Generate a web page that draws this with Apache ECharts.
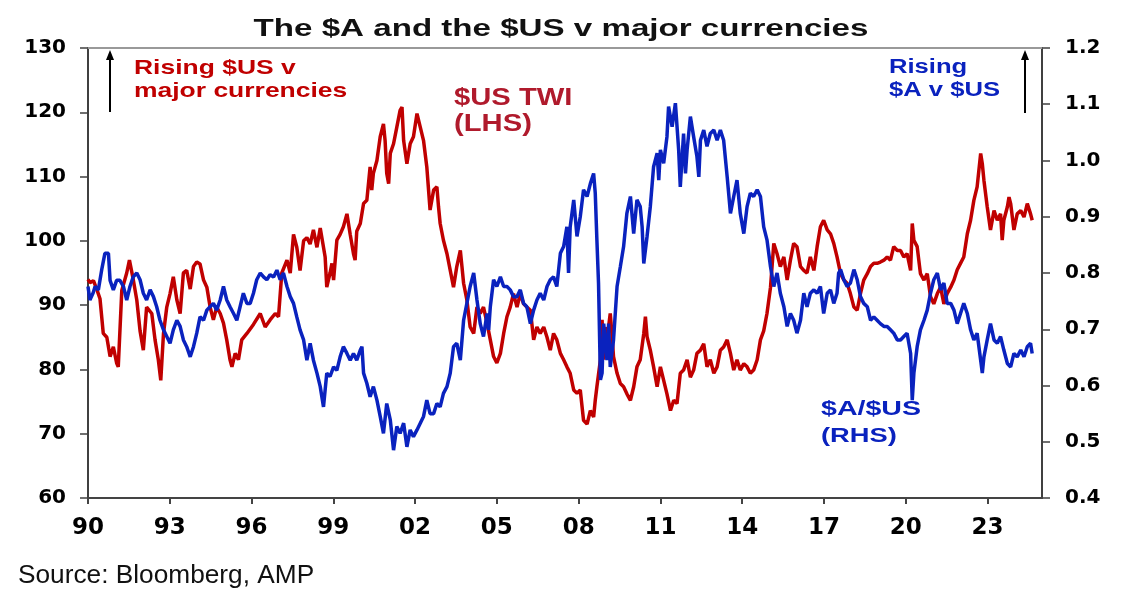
<!DOCTYPE html>
<html>
<head>
<meta charset="utf-8">
<script src="https://cdn.jsdelivr.net/npm/echarts@6/dist/echarts.min.js"></script>
<style>
    html, body { margin: 0; padding: 0; background: #fff; }
    #chart { width: 1132px; height: 602px; }
</style>
</head>
<body>
<div id="chart"></div>
<script>
// $US trade weighted index (LHS)
var twiYears = [
    1990.00, 1990.07, 1990.20, 1990.32, 1990.44, 1990.56, 1990.69, 1990.81, 1990.93, 1991.05,
    1991.11, 1991.24, 1991.42, 1991.52, 1991.66, 1991.79, 1991.91, 1992.03, 1992.15, 1992.34,
    1992.46, 1992.58, 1992.67, 1992.77, 1992.89, 1993.01, 1993.13, 1993.26, 1993.38, 1993.50,
    1993.62, 1993.75, 1993.87, 1993.99, 1994.11, 1994.24, 1994.36, 1994.48, 1994.60, 1994.72,
    1994.85, 1994.97, 1995.09, 1995.21, 1995.28, 1995.40, 1995.52, 1995.64, 1995.83, 1996.07,
    1996.32, 1996.50, 1996.68, 1996.87, 1996.99, 1997.11, 1997.30, 1997.42, 1997.54, 1997.66,
    1997.78, 1997.91, 1998.03, 1998.15, 1998.27, 1998.40, 1998.52, 1998.70, 1998.76, 1998.88,
    1998.95, 1999.01, 1999.13, 1999.25, 1999.37, 1999.50, 1999.62, 1999.74, 1999.80, 1999.86,
    1999.99, 2000.11, 2000.23, 2000.35, 2000.41, 2000.47, 2000.60, 2000.72, 2000.84, 2000.90,
    2000.96, 2001.03, 2001.09, 2001.21, 2001.33, 2001.45, 2001.52, 2001.58, 2001.70, 2001.82,
    2001.94, 2002.07, 2002.19, 2002.31, 2002.43, 2002.55, 2002.68, 2002.80, 2002.86, 2002.92,
    2003.04, 2003.17, 2003.29, 2003.41, 2003.53, 2003.66, 2003.72, 2003.78, 2003.90, 2004.02,
    2004.15, 2004.27, 2004.39, 2004.51, 2004.64, 2004.76, 2004.88, 2005.00, 2005.13, 2005.25,
    2005.37, 2005.49, 2005.61, 2005.74, 2005.86, 2005.98, 2006.10, 2006.23, 2006.35, 2006.47,
    2006.59, 2006.72, 2006.84, 2006.96, 2007.08, 2007.20, 2007.33, 2007.45, 2007.57, 2007.69,
    2007.82, 2007.94, 2008.06, 2008.18, 2008.31, 2008.43, 2008.55, 2008.61, 2008.67, 2008.80,
    2008.86, 2008.92, 2008.98, 2009.04, 2009.16, 2009.22, 2009.28, 2009.41, 2009.53, 2009.65,
    2009.77, 2009.90, 2010.02, 2010.14, 2010.26, 2010.39, 2010.45, 2010.51, 2010.63, 2010.75,
    2010.88, 2011.00, 2011.12, 2011.24, 2011.37, 2011.49, 2011.61, 2011.73, 2011.85, 2011.98,
    2012.10, 2012.22, 2012.34, 2012.47, 2012.59, 2012.71, 2012.83, 2012.96, 2013.08, 2013.20,
    2013.32, 2013.45, 2013.57, 2013.69, 2013.81, 2013.93, 2014.06, 2014.18, 2014.30, 2014.42,
    2014.55, 2014.67, 2014.79, 2014.91, 2015.04, 2015.16, 2015.28, 2015.40, 2015.53, 2015.65,
    2015.77, 2015.89, 2016.01, 2016.14, 2016.26, 2016.38, 2016.50, 2016.63, 2016.75, 2016.87,
    2016.99, 2017.12, 2017.24, 2017.36, 2017.48, 2017.61, 2017.73, 2017.85, 2017.97, 2018.10,
    2018.22, 2018.34, 2018.46, 2018.59, 2018.71, 2018.83, 2018.95, 2019.07, 2019.20, 2019.32,
    2019.44, 2019.56, 2019.69, 2019.81, 2019.93, 2020.05, 2020.18, 2020.24, 2020.30, 2020.42,
    2020.54, 2020.67, 2020.79, 2020.91, 2021.03, 2021.16, 2021.28, 2021.40, 2021.52, 2021.65,
    2021.77, 2021.89, 2022.01, 2022.13, 2022.26, 2022.38, 2022.50, 2022.62, 2022.75, 2022.81,
    2022.87, 2022.99, 2023.11, 2023.24, 2023.36, 2023.48, 2023.54, 2023.60, 2023.73, 2023.79,
    2023.85, 2023.97, 2024.09, 2024.22, 2024.34, 2024.46, 2024.58, 2024.64
];
var twiValues = [
    94, 93.5, 93.8, 92.5, 91, 85.6, 85, 82, 83.5, 81,
    80.4, 92.3, 95, 97, 94, 90.8, 86, 83, 89.7, 88.7,
    84.6, 81.5, 78.3, 85.6, 89.7, 91.8, 94.4, 90.8, 88.7, 95,
    95.4, 92.5, 96, 96.7, 96.4, 93.9, 92.8, 89.7, 87.7, 89.7,
    88.7, 87.2, 84.6, 81.5, 80.4, 82.5, 81.5, 84.6, 85.6, 87,
    88.7, 86.6, 87.7, 88.7, 88.2, 95, 97, 95, 101, 99,
    95.4, 100, 100.5, 99.5, 101.7, 99, 102, 97.5, 92.8, 95,
    96.5, 93.9, 100.1, 101, 102.2, 104.2, 101, 98, 97, 101.5,
    102.7, 105.8, 106.3, 111.5, 107.9, 110.5, 112.5, 116.2, 118.2, 115.6,
    110.5, 108.9, 113.6, 115.1, 117.7, 120.3, 120.8, 115.6, 112, 115.1,
    116.2, 119.8, 117.7, 115.6, 111.5, 104.8, 107.9, 108.4, 105.3, 102.7,
    100.1, 98, 95.4, 92.8, 96, 98.5, 96, 93.4, 90.8, 86.6,
    85.6, 89.7, 88.7, 89.7, 87.2, 84.6, 82, 81, 82.5, 85.6,
    88.2, 89.7, 91.8, 89.7, 91.8, 90.2, 89.7, 89.2, 84.6, 86.6,
    85.6, 86.6, 85, 83, 85.6, 84.6, 82.5, 81.5, 80.4, 79.4,
    76.8, 76.3, 76.8, 72.1, 71.5, 73.6, 72.6, 75.2, 77.3, 81.5,
    87.7, 81.5, 86.6, 84.6, 88.7, 85.6, 82, 79.4, 77.8, 77.3,
    76.2, 75.2, 77.3, 80.4, 81.5, 85.6, 88.2, 85.1, 83, 80.4,
    77.3, 80.4, 78.3, 76.2, 73.6, 75.2, 74.7, 79.4, 79.9, 81.5,
    78.8, 79.9, 82.5, 83, 84, 80.4, 81.5, 79.4, 80.4, 83,
    83.5, 84.6, 82.5, 79.9, 81.5, 79.9, 80.9, 80.4, 79.4, 79.9,
    81.5, 84.6, 86, 88.7, 92.8, 99.6, 98, 96, 97.5, 93.9,
    97, 99.6, 99.1, 96, 95.4, 95, 97.5, 95.4, 99.1, 102.2,
    103.2, 101.7, 101.1, 99.6, 97.5, 94.9, 93.9, 93.4, 91.8, 89.7,
    89.2, 91.8, 93.9, 94.9, 96, 96.5, 96.5, 96.7, 97, 97.5,
    97, 99.1, 98.5, 98.5, 97.5, 98, 95.4, 102.7, 100.1, 99.1,
    94.9, 93.9, 94.9, 91.3, 90.2, 91.8, 92.8, 90.2, 91.8, 92.8,
    93.9, 95.5, 96.5, 97.5, 101.1, 103.2, 106.3, 108.4, 113.6, 112,
    109.4, 105.3, 101.7, 104.7, 103.2, 104.2, 100.1, 103.2, 105.3, 106.8,
    105.8, 101.7, 104.2, 104.7, 103.7, 105.8, 104.2, 103.2
];

// $A/$US (RHS)
var audYears = [
    1990.00, 1990.07, 1990.19, 1990.26, 1990.38, 1990.50, 1990.62, 1990.75, 1990.81, 1990.93,
    1991.05, 1991.17, 1991.30, 1991.42, 1991.54, 1991.66, 1991.79, 1991.91, 1992.03, 1992.15,
    1992.28, 1992.40, 1992.52, 1992.64, 1992.77, 1992.89, 1993.01, 1993.13, 1993.26, 1993.38,
    1993.50, 1993.62, 1993.75, 1993.87, 1993.99, 1994.11, 1994.24, 1994.36, 1994.48, 1994.60,
    1994.72, 1994.85, 1994.97, 1995.09, 1995.21, 1995.34, 1995.46, 1995.58, 1995.70, 1995.83,
    1995.95, 1996.07, 1996.19, 1996.32, 1996.44, 1996.56, 1996.68, 1996.81, 1996.93, 1997.05,
    1997.17, 1997.30, 1997.42, 1997.54, 1997.66, 1997.78, 1997.91, 1998.03, 1998.15, 1998.27,
    1998.40, 1998.52, 1998.64, 1998.76, 1998.88, 1999.01, 1999.13, 1999.25, 1999.37, 1999.50,
    1999.62, 1999.74, 1999.86, 1999.99, 2000.05, 2000.11, 2000.23, 2000.35, 2000.47, 2000.60,
    2000.72, 2000.84, 2000.96, 2001.09, 2001.21, 2001.33, 2001.45, 2001.58, 2001.70, 2001.82,
    2001.94, 2002.07, 2002.19, 2002.31, 2002.43, 2002.55, 2002.68, 2002.80, 2002.92, 2003.04,
    2003.17, 2003.29, 2003.41, 2003.53, 2003.66, 2003.78, 2003.90, 2004.02, 2004.15, 2004.27,
    2004.39, 2004.51, 2004.64, 2004.70, 2004.76, 2004.88, 2005.00, 2005.13, 2005.25, 2005.37,
    2005.49, 2005.61, 2005.74, 2005.86, 2005.98, 2006.10, 2006.23, 2006.35, 2006.47, 2006.59,
    2006.72, 2006.84, 2006.96, 2007.08, 2007.20, 2007.33, 2007.45, 2007.57, 2007.63, 2007.69,
    2007.82, 2007.94, 2008.06, 2008.18, 2008.31, 2008.43, 2008.55, 2008.61, 2008.67, 2008.73,
    2008.80, 2008.86, 2008.92, 2009.04, 2009.10, 2009.16, 2009.28, 2009.41, 2009.53, 2009.65,
    2009.77, 2009.90, 2010.02, 2010.14, 2010.26, 2010.33, 2010.39, 2010.51, 2010.63, 2010.75,
    2010.88, 2010.94, 2011.00, 2011.12, 2011.24, 2011.30, 2011.43, 2011.55, 2011.67, 2011.73,
    2011.85, 2011.92, 2011.98, 2012.10, 2012.22, 2012.34, 2012.41, 2012.47, 2012.59, 2012.71,
    2012.83, 2012.96, 2013.08, 2013.20, 2013.32, 2013.45, 2013.57, 2013.69, 2013.81, 2013.93,
    2014.06, 2014.18, 2014.30, 2014.42, 2014.55, 2014.67, 2014.79, 2014.91, 2015.04, 2015.16,
    2015.28, 2015.40, 2015.53, 2015.65, 2015.77, 2015.89, 2016.01, 2016.14, 2016.26, 2016.38,
    2016.50, 2016.63, 2016.75, 2016.87, 2016.99, 2017.12, 2017.24, 2017.36, 2017.48, 2017.54,
    2017.61, 2017.73, 2017.85, 2017.97, 2018.10, 2018.22, 2018.34, 2018.46, 2018.59, 2018.71,
    2018.83, 2018.95, 2019.07, 2019.20, 2019.32, 2019.44, 2019.56, 2019.69, 2019.81, 2019.93,
    2020.05, 2020.18, 2020.24, 2020.30, 2020.42, 2020.54, 2020.67, 2020.79, 2020.91, 2021.03,
    2021.16, 2021.28, 2021.40, 2021.52, 2021.65, 2021.77, 2021.89, 2022.01, 2022.13, 2022.26,
    2022.38, 2022.50, 2022.62, 2022.75, 2022.81, 2022.87, 2022.99, 2023.11, 2023.24, 2023.36,
    2023.48, 2023.60, 2023.73, 2023.85, 2023.97, 2024.09, 2024.22, 2024.34, 2024.46, 2024.58,
    2024.64
];
var audValues = [
    0.776, 0.752, 0.765, 0.776, 0.77, 0.805, 0.835, 0.835, 0.787, 0.77,
    0.787, 0.787, 0.776, 0.752, 0.776, 0.793, 0.8, 0.788, 0.764, 0.752,
    0.77, 0.758, 0.74, 0.716, 0.699, 0.687, 0.675, 0.699, 0.716, 0.705,
    0.681, 0.669, 0.651, 0.669, 0.693, 0.722, 0.716, 0.734, 0.74, 0.746,
    0.734, 0.752, 0.776, 0.752, 0.74, 0.728, 0.716, 0.74, 0.764, 0.746,
    0.746, 0.764, 0.788, 0.8, 0.793, 0.788, 0.797, 0.793, 0.805, 0.788,
    0.8, 0.776, 0.758, 0.746, 0.722, 0.699, 0.681, 0.645, 0.675, 0.645,
    0.622, 0.598, 0.562, 0.622, 0.616, 0.633, 0.627, 0.651, 0.669, 0.657,
    0.645, 0.657, 0.645, 0.663, 0.669, 0.622, 0.604, 0.58, 0.598, 0.574,
    0.545, 0.515, 0.568, 0.539, 0.485, 0.527, 0.515, 0.533, 0.491, 0.521,
    0.509, 0.521, 0.533, 0.545, 0.574, 0.55, 0.55, 0.568, 0.562, 0.586,
    0.598, 0.622, 0.669, 0.675, 0.645, 0.716, 0.746, 0.776, 0.8, 0.752,
    0.71, 0.687, 0.728, 0.699, 0.74, 0.788, 0.776, 0.793, 0.776, 0.776,
    0.77, 0.758, 0.758, 0.77, 0.746, 0.74, 0.71, 0.734, 0.752, 0.764,
    0.752, 0.776, 0.788, 0.793, 0.776, 0.835, 0.847, 0.882, 0.8, 0.882,
    0.93, 0.865, 0.9, 0.948, 0.936, 0.959, 0.977, 0.942, 0.859, 0.782,
    0.61, 0.622, 0.71, 0.645, 0.71, 0.633, 0.681, 0.776, 0.811, 0.847,
    0.906, 0.936, 0.87, 0.93, 0.918, 0.882, 0.817, 0.865, 0.918, 0.989,
    1.013, 0.965, 1.019, 0.995, 1.042, 1.096, 1.06, 1.102, 1.019, 0.953,
    1.048, 0.977, 1.019, 1.078, 1.042, 1.007, 0.971, 1.036, 1.054, 1.025,
    1.048, 1.054, 1.036, 1.054, 1.036, 0.971, 0.906, 0.936, 0.965, 0.906,
    0.87, 0.918, 0.942, 0.936, 0.948, 0.936, 0.882, 0.859, 0.811, 0.776,
    0.8, 0.764, 0.74, 0.705, 0.728, 0.716, 0.693, 0.716, 0.764, 0.74,
    0.764, 0.77, 0.764, 0.776, 0.728, 0.764, 0.77, 0.746, 0.764, 0.8,
    0.806, 0.788, 0.776, 0.782, 0.806, 0.788, 0.758, 0.746, 0.74, 0.716,
    0.722, 0.716, 0.71, 0.705, 0.705, 0.699, 0.693, 0.681, 0.681, 0.687,
    0.693, 0.657, 0.574, 0.622, 0.669, 0.699, 0.716, 0.734, 0.764, 0.788,
    0.8, 0.77, 0.782, 0.746, 0.746, 0.734, 0.71, 0.728, 0.746, 0.728,
    0.699, 0.681, 0.693, 0.645, 0.622, 0.651, 0.681, 0.71, 0.681, 0.675,
    0.687, 0.663, 0.639, 0.633, 0.657, 0.651, 0.663, 0.651, 0.669, 0.675,
    0.657
];

var xTicks = { min: 1990, max: 2025, step: 3 };
var leftTicks = { min: 60, max: 130, step: 10 };
var rightTicks = { min: 0.4, max: 1.2, step: 0.1 };

var zip = function (xs, ys) {
    var out = [];
    for (var i = 0; i < xs.length; i++) {
        out.push([xs[i], ys[i]]);
    }
    return out;
};

var RED = '#C00000';
var BLUE = '#0A22BE';
var labelFont = 'DejaVu Sans';

var myChart = echarts.init(document.getElementById('chart'), null, { renderer: 'canvas' });

var option = {
    backgroundColor: '#fff',
    animation: false,
    grid: { left: 88, right: 90, top: 48, bottom: 104 },
    xAxis: [
        {
            type: 'value',
            min: xTicks.min,
            max: xTicks.max,
            interval: xTicks.step,
            axisLine: { show: true, lineStyle: { color: '#444', width: 2 } },
            axisTick: { show: true, length: 6, lineStyle: { color: '#444', width: 2 } },
            axisLabel: {
                showMaxLabel: false,
                margin: 19,
                color: '#000',
                fontFamily: labelFont,
                fontWeight: 'bold',
                fontSize: 23,
                formatter: function (v) {
                    var y = Math.round(v) % 100;
                    return (y < 10 ? '0' : '') + y;
                }
            },
            splitLine: { show: false }
        },
        {
            // top border of the plot
            type: 'value',
            position: 'top',
            min: xTicks.min,
            max: xTicks.max,
            axisLine: { show: true, lineStyle: { color: '#999', width: 2 } },
            axisTick: { show: false },
            axisLabel: { show: false },
            splitLine: { show: false }
        }
    ],
    yAxis: [
        {
            type: 'value',
            position: 'left',
            min: leftTicks.min,
            max: leftTicks.max,
            interval: leftTicks.step,
            axisLine: { show: true, lineStyle: { color: '#404040', width: 2 } },
            axisTick: { show: true, length: 8, lineStyle: { color: '#404040', width: 1.5 } },
            axisLabel: {
                margin: 22,
                color: '#000',
                fontFamily: labelFont,
                fontWeight: 'bold',
                fontSize: 20
            },
            splitLine: { show: false }
        },
        {
            type: 'value',
            position: 'right',
            min: rightTicks.min,
            max: rightTicks.max,
            interval: rightTicks.step,
            axisLine: { show: true, lineStyle: { color: '#404040', width: 2 } },
            axisTick: { show: true, length: 8, lineStyle: { color: '#404040', width: 1.5 } },
            axisLabel: {
                margin: 23,
                color: '#000',
                fontFamily: labelFont,
                fontWeight: 'bold',
                fontSize: 20,
                formatter: function (v) { return v.toFixed(1); }
            },
            splitLine: { show: false }
        }
    ],
    series: [
        {
            name: '$US TWI (LHS)',
            type: 'line',
            yAxisIndex: 0,
            showSymbol: false,
            data: zip(twiYears, twiValues),
            lineStyle: { color: RED, width: 3.5 },
            itemStyle: { color: RED },
            z: 2
        },
        {
            name: '$A/$US (RHS)',
            type: 'line',
            yAxisIndex: 1,
            showSymbol: false,
            data: zip(audYears, audValues),
            lineStyle: { color: BLUE, width: 3.5 },
            itemStyle: { color: BLUE },
            z: 3
        }
    ],
    graphic: [
        // title
        {
            type: 'text', x: 561, y: 29, scaleX: 1.38,
            style: { text: 'The $A and the $US v major currencies', fill: '#111',
                font: 'bold 24px "Liberation Sans", Arial, sans-serif', align: 'center', verticalAlign: 'middle' }
        },
        // red annotation, upper left
        {
            type: 'text', x: 134, y: 68, scaleX: 1.26,
            style: { text: 'Rising $US v', fill: RED,
                font: 'bold 21px "Liberation Sans", Arial, sans-serif', align: 'left', verticalAlign: 'middle' }
        },
        {
            type: 'text', x: 134, y: 91, scaleX: 1.26,
            style: { text: 'major currencies', fill: RED,
                font: 'bold 21px "Liberation Sans", Arial, sans-serif', align: 'left', verticalAlign: 'middle' }
        },
        { type: 'line', shape: { x1: 110, y1: 112, x2: 110, y2: 58 }, style: { stroke: '#000', lineWidth: 2 } },
        { type: 'polygon', shape: { points: [[110, 50], [106, 60], [114, 60]] }, style: { fill: '#000' } },
        // $US TWI label
        {
            type: 'text', x: 454, y: 99, scaleX: 1.27,
            style: { text: '$US TWI', fill: '#B01A2C',
                font: 'bold 23px "Liberation Sans", Arial, sans-serif', align: 'left', verticalAlign: 'middle' }
        },
        {
            type: 'text', x: 454, y: 125, scaleX: 1.27,
            style: { text: '(LHS)', fill: '#B01A2C',
                font: 'bold 23px "Liberation Sans", Arial, sans-serif', align: 'left', verticalAlign: 'middle' }
        },
        // blue annotation, upper right
        {
            type: 'text', x: 889, y: 67, scaleX: 1.28,
            style: { text: 'Rising', fill: BLUE,
                font: 'bold 20px "Liberation Sans", Arial, sans-serif', align: 'left', verticalAlign: 'middle' }
        },
        {
            type: 'text', x: 889, y: 90, scaleX: 1.28,
            style: { text: '$A v $US', fill: BLUE,
                font: 'bold 20px "Liberation Sans", Arial, sans-serif', align: 'left', verticalAlign: 'middle' }
        },
        { type: 'line', shape: { x1: 1025, y1: 113, x2: 1025, y2: 58 }, style: { stroke: '#000', lineWidth: 2 } },
        { type: 'polygon', shape: { points: [[1025, 50], [1021, 60], [1029, 60]] }, style: { fill: '#000' } },
        // $A/$US label
        {
            type: 'text', x: 821, y: 409, scaleX: 1.36,
            style: { text: '$A/$US', fill: BLUE,
                font: 'bold 21px "Liberation Sans", Arial, sans-serif', align: 'left', verticalAlign: 'middle' }
        },
        {
            type: 'text', x: 821, y: 436, scaleX: 1.3,
            style: { text: '(RHS)', fill: BLUE,
                font: 'bold 21px "Liberation Sans", Arial, sans-serif', align: 'left', verticalAlign: 'middle' }
        },
        // source
        {
            type: 'text', x: 18, y: 576, scaleX: 1.05,
            style: { text: 'Source: Bloomberg, AMP', fill: '#111',
                font: '25px "Liberation Sans", Arial, sans-serif', align: 'left', verticalAlign: 'middle' }
        }
    ]
};

myChart.setOption(option);
window.addEventListener('resize', function () {
    myChart.resize();
});
</script>
</body>
</html>
